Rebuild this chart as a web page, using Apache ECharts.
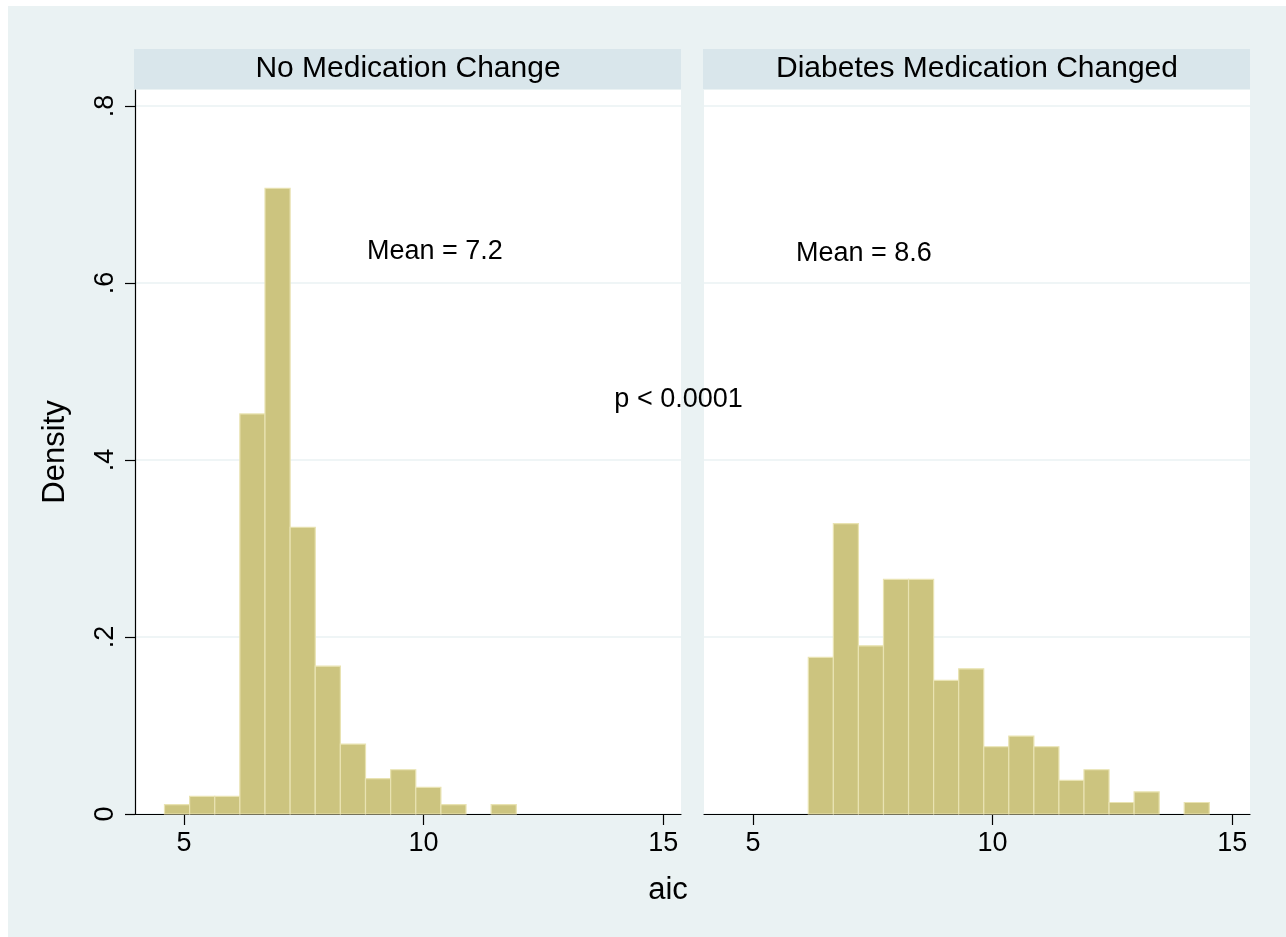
<!DOCTYPE html>
<html>
<head>
<meta charset="utf-8">
<script src="https://cdn.jsdelivr.net/npm/echarts@6/dist/echarts.min.js"></script>
<style>
html,body{margin:0;padding:0;background:#fff;}
#chart{width:1286px;height:937px;}
</style>
</head>
<body>
<div id="chart"></div>
<script>
// ---- data ----
const panelTitles = ['No Medication Change', 'Diabetes Medication Changed'];
const leftBinStart = 4.595;
const leftBinWidth = 0.5242;
const leftDensity = [0.0105, 0.020, 0.020, 0.452, 0.707, 0.324, 0.167, 0.079, 0.040, 0.050, 0.030, 0.0105, 0, 0.0105];
const rightBinStart = 6.156;
const rightBinWidth = 0.5228;
const rightDensity = [0.177, 0.328, 0.190, 0.265, 0.265, 0.151, 0.164, 0.076, 0.088, 0.076, 0.038, 0.050, 0.013, 0.025, 0, 0.013];
const xTicks = [5, 10, 15];
const yTicks = [0, 0.2, 0.4, 0.6, 0.8];
const yTickLabels = {0: '0', 0.2: '.2', 0.4: '.4', 0.6: '.6', 0.8: '.8'};
const xTitle = 'aic';
const yTitle = 'Density';
const leftMeanText = 'Mean = 7.2';
const rightMeanText = 'Mean = 8.6';
const pText = 'p < 0.0001';
const leftMeanPos = [8.82, 0.636];
const rightMeanPos = [5.90, 0.633];
const pPos = [13.98, 0.468];

// ---- build ----
function bins(start, w, dens) {
  return dens.map((d, i) => [start + i * w, start + (i + 1) * w, d]);
}
const FONT = '"Liberation Sans", Arial, Helvetica, sans-serif';
const BAR_FILL = '#CCC47F';
const BAR_STROKE = '#E9E3B2';
const BG = '#EAF2F3';
const STRIP = '#D9E6EB';

function renderBar(params, api) {
  const x0 = api.value(0), x1 = api.value(1), h = api.value(2);
  if (!h) return null;
  const p0 = api.coord([x0, 0]);
  const p1 = api.coord([x1, h]);
  return {
    type: 'rect',
    shape: {x: p0[0], y: p1[1], width: p1[0] - p0[0], height: p0[1] - p1[1]},
    style: {fill: BAR_FILL, stroke: BAR_STROKE, lineWidth: 1.2}
  };
}

const grids = [
  {left: 135, top: 90, width: 546, height: 724, show: true, backgroundColor: '#fff', borderWidth: 0},
  {left: 704, top: 90, width: 546, height: 724, show: true, backgroundColor: '#fff', borderWidth: 0}
];

function xAxisCfg(idx) {
  return {
    type: 'value', gridIndex: idx, min: 3.98, max: 15.37,
    axisLine: {show: true, onZero: false, lineStyle: {color: '#000', width: 1.2}},
    axisTick: {show: true, length: 11, customValues: xTicks, lineStyle: {color: '#000', width: 1.2}},
    axisLabel: {show: true, customValues: xTicks, margin: 16, color: '#000', fontSize: 27, fontFamily: FONT},
    splitLine: {show: false}
  };
}
function yAxisCfg(idx) {
  const left = idx === 0;
  return {
    type: 'value', gridIndex: idx, min: 0, max: 0.818, interval: 0.2,
    name: left ? yTitle : '', nameLocation: 'middle', nameGap: 64, nameRotate: 90,
    nameTextStyle: {color: '#000', fontSize: 31, fontFamily: FONT},
    axisLine: {show: left, lineStyle: {color: '#000', width: 1.2}},
    axisTick: {show: left, length: 10, customValues: yTicks, lineStyle: {color: '#000', width: 1.2}},
    axisLabel: {show: left, customValues: yTicks, rotate: 90, margin: 16, color: '#000', fontSize: 27, fontFamily: FONT,
      formatter: v => yTickLabels[Math.round(v * 10) / 10] !== undefined ? yTickLabels[Math.round(v * 10) / 10] : ''},
    splitLine: {show: true, lineStyle: {color: BG, width: 1.5}}
  };
}

function textSeries(idx, pos, txt) {
  return {
    type: 'scatter', xAxisIndex: idx, yAxisIndex: idx, symbolSize: 0, silent: true, clip: false, z: 10,
    itemStyle: {opacity: 1},
    data: [pos],
    label: {show: true, position: 'right', distance: 0, formatter: txt, color: '#000', opacity: 1, fontSize: 27, fontFamily: FONT}
  };
}

const chart = echarts.init(document.getElementById('chart'), null, {renderer: 'canvas'});
chart.setOption({
  backgroundColor: '#fff',
  animation: false,
  grid: grids,
  xAxis: [xAxisCfg(0), xAxisCfg(1)],
  yAxis: [yAxisCfg(0), yAxisCfg(1)],
  graphic: [
    {type: 'rect', z: -10, silent: true, shape: {x: 8, y: 6, width: 1278, height: 931}, style: {fill: BG}},
    {type: 'rect', silent: true, shape: {x: 134, y: 49, width: 547, height: 40}, style: {fill: STRIP}},
    {type: 'rect', silent: true, shape: {x: 703, y: 49, width: 547, height: 40}, style: {fill: STRIP}},
    {type: 'text', silent: true, x: 408, y: 69, style: {text: panelTitles[0], fill: '#000', font: '30px ' + FONT, textAlign: 'center', textVerticalAlign: 'middle'}},
    {type: 'text', silent: true, x: 977, y: 69, style: {text: panelTitles[1], fill: '#000', font: '30px ' + FONT, textAlign: 'center', textVerticalAlign: 'middle'}},
    {type: 'text', silent: true, x: 668, y: 890, style: {text: xTitle, fill: '#000', font: '31px ' + FONT, textAlign: 'center', textVerticalAlign: 'middle'}}
  ],
  series: [
    {type: 'custom', xAxisIndex: 0, yAxisIndex: 0, renderItem: renderBar, encode: {x: [0, 1], y: 2}, data: bins(leftBinStart, leftBinWidth, leftDensity)},
    {type: 'custom', xAxisIndex: 1, yAxisIndex: 1, renderItem: renderBar, encode: {x: [0, 1], y: 2}, data: bins(rightBinStart, rightBinWidth, rightDensity)},
    textSeries(0, leftMeanPos, leftMeanText),
    textSeries(1, rightMeanPos, rightMeanText),
    textSeries(0, pPos, pText)
  ]
});
</script>
</body>
</html>
